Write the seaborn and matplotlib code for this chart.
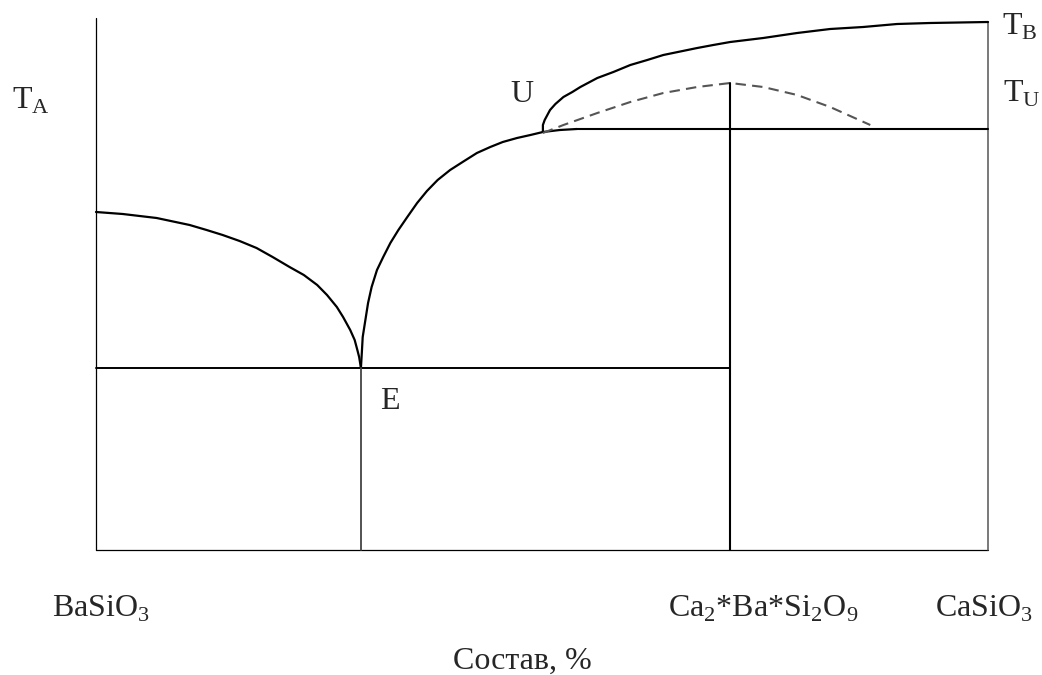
import pandas as pd
import matplotlib
matplotlib.use("Agg")
import matplotlib.pyplot as plt
import seaborn as sns

# Phase diagram BaSiO3 - CaSiO3 (composition %, temperature in arbitrary units)
liq_a_x = [0, 3.0, 4.9, 6.8, 10.5, 12.4, 14.2, 16.1, 18.0, 19.8, 21.7, 23.3, 24.8,
           25.9, 27.0, 27.7, 28.5, 29.0, 29.3, 29.5, 29.7]
liq_a_t = [338, 336, 334, 332, 325, 320, 315, 309, 302, 293, 283, 275, 265,
           255, 243, 233, 220, 210, 200, 193, 182]

liq_eu_x = [29.7, 29.8, 29.9, 30.2, 30.5, 30.9, 31.5, 32.2, 33.0, 33.9, 34.9, 36.0,
            37.1, 38.3, 39.7, 41.1, 42.7, 44.2, 45.6, 47.2, 48.7, 50.1, 52.0, 53.9]
liq_eu_t = [182, 197, 213, 230, 247, 263, 280, 293, 307, 320, 333, 347,
            359, 370, 380, 388, 397, 403, 408, 412, 415, 418, 420, 421]

liq_b_x = [50.1, 50.1, 50.3, 50.9, 51.5, 52.4, 53.4, 54.3, 56.2, 58.0, 59.9, 61.8,
           63.6, 65.5, 67.4, 69.2, 71.1, 74.8, 78.6, 82.3, 86.0, 89.8, 93.5, 100]
liq_b_t = [418, 425, 430, 440, 446, 453, 458, 463, 472, 478, 485, 490,
           495, 498.5, 502, 505, 508, 512, 517, 521, 523, 526, 527, 528]

meta_x = [50.1, 52.4, 56.2, 59.9, 63.6, 67.4, 71.1, 74.8, 78.6, 82.3, 86.8]
meta_t = [417, 425, 437, 448, 457, 463, 467, 463, 455, 443, 425]

t_eutectic = 182
t_peritectic = 421
x_eutectic = 29.7
x_compound = 71.1
t_compound = 467
t_axis_top = 532
t_right_top = 528

fig = plt.figure(figsize=(10.42, 6.75), dpi=100)
ax = fig.add_axes([0, 0, 1, 1])
sns.set_style("white")
plt.rcParams["mathtext.fontset"] = "custom"
plt.rcParams["mathtext.rm"] = "Liberation Serif"


def draw(xs, ts, lw=1.5, color="black", dashes=None):
    d = pd.DataFrame({"x": xs, "t": ts})
    sns.lineplot(data=d, x="x", y="t", sort=False, estimator=None,
                 color=color, linewidth=lw, ax=ax)
    line = ax.lines[-1]
    line.set_solid_joinstyle("round")
    if dashes:
        line.set_dashes(dashes)


# frame
draw([0, 0], [0, t_axis_top], lw=0.9)
draw([0, 100], [0, 0], lw=0.9)
draw([100, 100], [0, t_right_top], lw=1.1, color="#555555")

# liquidus curves
draw(liq_a_x, liq_a_t, lw=1.6)
draw(liq_eu_x, liq_eu_t, lw=1.6)
draw(liq_b_x, liq_b_t, lw=1.6)
draw(meta_x, meta_t, lw=1.5, color="#555555", dashes=(5, 3))

# invariant lines
draw([0, x_compound], [t_eutectic, t_eutectic], lw=1.4)
draw([liq_eu_x[-1], 100], [t_peritectic, t_peritectic], lw=1.5)
draw([x_eutectic, x_eutectic], [0, t_eutectic], lw=1.3, color="#444444")
draw([x_compound, x_compound], [0, t_compound], lw=1.5)

ax.set_xlim(-10.76, 106.05)
ax.set_ylim(-125, 550)
ax.axis("off")

serif = ["Liberation Serif", "DejaVu Serif"]
fs = 23


def label(px, py, s, ha="left"):
    fig.text(px / 1042, 1 - py / 675, s, ha=ha, va="baseline",
             fontsize=fs, family=serif)


label(12, 109, r"T$_\mathregular{A}$")
label(510, 102, "U")
label(380, 409, "E")
label(1002, 35, r"T$_\mathregular{B}$")
label(1003, 102, r"T$_\mathregular{U}$")
label(52, 617, r"BaSiO$_\mathregular{3}$")
label(668, 617, r"Ca$_\mathregular{2}$*Ba*Si$_\mathregular{2}$O$_\mathregular{9}$")
label(935, 617, r"CaSiO$_\mathregular{3}$")
label(522, 669, "Состав, %", ha="center")

plt.savefig("out.png", dpi=100)
